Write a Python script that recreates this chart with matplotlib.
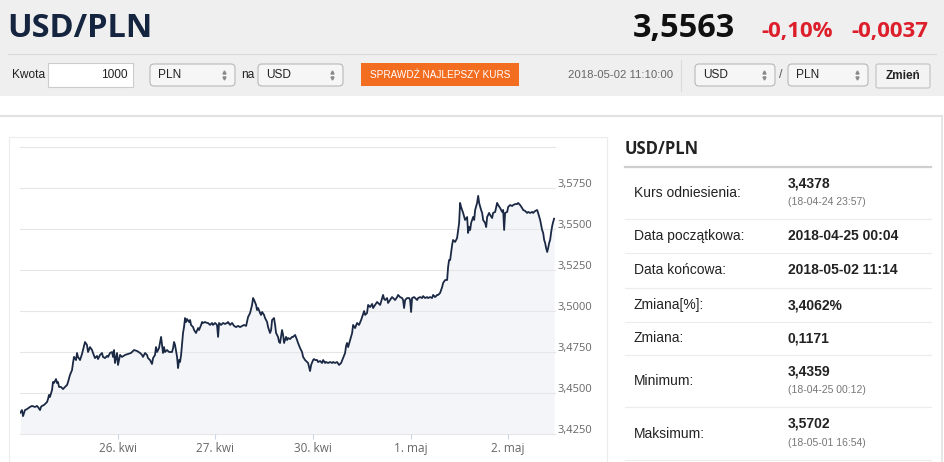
import matplotlib.pyplot as plt
from matplotlib.patches import Rectangle, FancyBboxPatch
from matplotlib.transforms import ScaledTranslation

# --- data ---
pair = "USD/PLN"
last_rate = "3,5563"
change_pct = "-0,10%"
change_abs = "-0,0037"
quote_time = "2018-05-02 11:10:00"

day_ticks = [1, 2, 3, 4, 5]
day_labels = ["26. kwi", "27. kwi", "30. kwi", "1. maj", "2. maj"]
rate_ticks = [3.425, 3.45, 3.475, 3.5, 3.525, 3.55, 3.575, 3.6]

# trading days since 25 kwi 00:00 (weekend skipped, like the site's ordinal axis)
t = [0.003, 0.020, 0.031, 0.051, 0.072, 0.102, 0.123, 0.154, 0.174, 0.184,
     0.205, 0.215, 0.225, 0.246, 0.277, 0.287, 0.297, 0.307, 0.328, 0.338,
     0.348, 0.369, 0.379, 0.389, 0.400, 0.420, 0.441, 0.461, 0.482, 0.492,
     0.512, 0.533, 0.543, 0.553, 0.574, 0.584, 0.594, 0.615, 0.635, 0.645,
     0.666, 0.686, 0.697, 0.717, 0.738, 0.748, 0.768, 0.789, 0.799, 0.820,
     0.840, 0.850, 0.871, 0.891, 0.902, 0.922, 0.943, 0.953, 0.963, 0.973,
     0.994, 1.004, 1.025, 1.045, 1.076, 1.107, 1.137, 1.168, 1.199, 1.230,
     1.250, 1.260, 1.281, 1.301, 1.311, 1.332, 1.352, 1.363, 1.383, 1.393,
     1.404, 1.424, 1.445, 1.455, 1.465, 1.475, 1.486, 1.506, 1.527, 1.557,
     1.568, 1.578, 1.588, 1.609, 1.619, 1.629, 1.639, 1.650, 1.670, 1.680,
     1.691, 1.701, 1.711, 1.732, 1.742, 1.752, 1.773, 1.783, 1.803, 1.824,
     1.834, 1.855, 1.865, 1.875, 1.895, 1.916, 1.926, 1.947, 1.967, 1.977,
     1.998, 2.018, 2.029, 2.039, 2.059, 2.080, 2.100, 2.121, 2.131, 2.152,
     2.172, 2.193, 2.213, 2.234, 2.254, 2.275, 2.295, 2.316, 2.336, 2.357,
     2.377, 2.387, 2.398, 2.418, 2.428, 2.439, 2.459, 2.469, 2.480, 2.500,
     2.510, 2.531, 2.541, 2.561, 2.572, 2.582, 2.602, 2.613, 2.623, 2.643,
     2.654, 2.664, 2.684, 2.695, 2.705, 2.725, 2.736, 2.746, 2.766, 2.787,
     2.797, 2.818, 2.838, 2.848, 2.869, 2.889, 2.900, 2.920, 2.941, 2.951,
     2.971, 2.982, 3.002, 3.012, 3.023, 3.043, 3.053, 3.074, 3.094, 3.105,
     3.125, 3.135, 3.156, 3.176, 3.197, 3.207, 3.227, 3.248, 3.268, 3.289,
     3.309, 3.330, 3.340, 3.350, 3.361, 3.381, 3.402, 3.412, 3.432, 3.453,
     3.473, 3.494, 3.504, 3.525, 3.535, 3.555, 3.566, 3.586, 3.607, 3.617,
     3.637, 3.658, 3.668, 3.689, 3.709, 3.719, 3.730, 3.740, 3.760, 3.770,
     3.791, 3.811, 3.822, 3.842, 3.863, 3.873, 3.893, 3.914, 3.924, 3.934,
     3.945, 3.965, 3.986, 3.996, 4.006, 4.016, 4.037, 4.047, 4.068, 4.078,
     4.098, 4.119, 4.129, 4.150, 4.170, 4.180, 4.201, 4.221, 4.232, 4.252,
     4.273, 4.283, 4.303, 4.324, 4.334, 4.355, 4.375, 4.385, 4.395, 4.406,
     4.426, 4.436, 4.457, 4.477, 4.488, 4.498, 4.508, 4.518, 4.529, 4.539,
     4.559, 4.580, 4.590, 4.600, 4.611, 4.621, 4.641, 4.652, 4.662, 4.682,
     4.693, 4.703, 4.723, 4.734, 4.744, 4.764, 4.775, 4.785, 4.805, 4.816,
     4.836, 4.846, 4.867, 4.887, 4.898, 4.918, 4.939, 4.949, 4.959, 4.969,
     4.990, 5.000, 5.020, 5.041, 5.051, 5.072, 5.092, 5.102, 5.123, 5.143,
     5.154, 5.174, 5.195, 5.205, 5.225, 5.246, 5.256, 5.277, 5.297, 5.307,
     5.328, 5.338, 5.348, 5.359, 5.369, 5.379, 5.389, 5.400, 5.410, 5.420,
     5.430, 5.441, 5.451, 5.461, 5.471]

rate = [3.4380, 3.4396, 3.4359, 3.4396, 3.4402, 3.4415, 3.4421, 3.4415, 3.4421, 3.4415,
        3.4396, 3.4415, 3.4421, 3.4427, 3.4445, 3.4463, 3.4488, 3.4476, 3.4518, 3.4567,
        3.4561, 3.4585, 3.4561, 3.4567, 3.4537, 3.4537, 3.4524, 3.4537, 3.4549, 3.4567,
        3.4610, 3.4640, 3.4683, 3.4720, 3.4701, 3.4744, 3.4720, 3.4701, 3.4738, 3.4762,
        3.4811, 3.4793, 3.4750, 3.4780, 3.4762, 3.4744, 3.4713, 3.4726, 3.4707, 3.4732,
        3.4744, 3.4720, 3.4713, 3.4726, 3.4720, 3.4744, 3.4750, 3.4720, 3.4762, 3.4683,
        3.4744, 3.4671, 3.4732, 3.4720, 3.4732, 3.4738, 3.4744, 3.4762, 3.4756, 3.4744,
        3.4732, 3.4720, 3.4744, 3.4732, 3.4713, 3.4701, 3.4677, 3.4713, 3.4732, 3.4780,
        3.4750, 3.4774, 3.4842, 3.4793, 3.4744, 3.4780, 3.4750, 3.4762, 3.4750, 3.4750,
        3.4774, 3.4811, 3.4793, 3.4720, 3.4652, 3.4701, 3.4689, 3.4732, 3.4866, 3.4902,
        3.4957, 3.4933, 3.4951, 3.4933, 3.4945, 3.4915, 3.4902, 3.4884, 3.4866, 3.4896,
        3.4884, 3.4915, 3.4933, 3.4927, 3.4933, 3.4927, 3.4927, 3.4915, 3.4927, 3.4915,
        3.4927, 3.4915, 3.4842, 3.4927, 3.4915, 3.4927, 3.4921, 3.4927, 3.4933, 3.4915,
        3.4927, 3.4909, 3.4902, 3.4909, 3.4902, 3.4909, 3.4915, 3.4909, 3.4963, 3.4988,
        3.5037, 3.5079, 3.5067, 3.5037, 3.5006, 3.5018, 3.4988, 3.4976, 3.4994, 3.4976,
        3.4957, 3.4933, 3.4902, 3.4866, 3.4884, 3.4945, 3.4957, 3.4915, 3.4866, 3.4842,
        3.4811, 3.4805, 3.4884, 3.4854, 3.4805, 3.4842, 3.4823, 3.4835, 3.4829, 3.4842,
        3.4842, 3.4854, 3.4823, 3.4805, 3.4774, 3.4750, 3.4720, 3.4701, 3.4689, 3.4683,
        3.4634, 3.4671, 3.4701, 3.4707, 3.4701, 3.4701, 3.4689, 3.4695, 3.4683, 3.4701,
        3.4683, 3.4689, 3.4683, 3.4689, 3.4683, 3.4689, 3.4683, 3.4689, 3.4671, 3.4683,
        3.4713, 3.4744, 3.4787, 3.4805, 3.4780, 3.4823, 3.4866, 3.4915, 3.4896, 3.4927,
        3.4915, 3.4945, 3.4963, 3.5000, 3.4976, 3.4988, 3.5037, 3.5024, 3.5043, 3.5018,
        3.5037, 3.5055, 3.5049, 3.5037, 3.5079, 3.5098, 3.5073, 3.5067, 3.5079, 3.5049,
        3.5067, 3.5085, 3.5079, 3.5067, 3.5085, 3.5098, 3.5085, 3.5079, 3.5067, 3.5018,
        3.5067, 3.5079, 3.5079, 3.5067, 3.4994, 3.5079, 3.5085, 3.5079, 3.5067, 3.5079,
        3.5085, 3.5079, 3.5091, 3.5079, 3.5085, 3.5079, 3.5085, 3.5079, 3.5098, 3.5085,
        3.5098, 3.5098, 3.5110, 3.5146, 3.5171, 3.5189, 3.5189, 3.5268, 3.5311, 3.5311,
        3.5402, 3.5433, 3.5421, 3.5445, 3.5494, 3.5537, 3.5659, 3.5634, 3.5616, 3.5598,
        3.5555, 3.5573, 3.5476, 3.5512, 3.5494, 3.5537, 3.5573, 3.5555, 3.5616, 3.5659,
        3.5702, 3.5659, 3.5616, 3.5598, 3.5555, 3.5537, 3.5512, 3.5573, 3.5598, 3.5585,
        3.5567, 3.5598, 3.5604, 3.5659, 3.5646, 3.5628, 3.5604, 3.5616, 3.5494, 3.5598,
        3.5604, 3.5634, 3.5646, 3.5640, 3.5646, 3.5652, 3.5652, 3.5659, 3.5646, 3.5628,
        3.5616, 3.5610, 3.5598, 3.5604, 3.5598, 3.5604, 3.5598, 3.5610, 3.5616, 3.5598,
        3.5555, 3.5524, 3.5494, 3.5476, 3.5433, 3.5415, 3.5384, 3.5360, 3.5384, 3.5415,
        3.5433, 3.5482, 3.5518, 3.5543, 3.5563]

stat_names = ["Kurs odniesienia:", "Data początkowa:", "Data końcowa:",
              "Zmiana[%]:", "Zmiana:", "Minimum:", "Maksimum:"]
stat_values = ["3,4378", "2018-04-25 00:04", "2018-05-02 11:14",
               "3,4062%", "0,1171", "3,4359", "3,5702"]
stat_notes = ["(18-04-24 23:57)", "", "", "", "", "(18-04-25 00:12)", "(18-05-01 16:54)"]

UI = ["Liberation Sans", "DejaVu Sans"]
plt.rcParams["font.family"] = ["Open Sans", "DejaVu Sans"]

fig = plt.figure(figsize=(9.45, 4.62), dpi=100)

# page layer in pixel units (y down)
page = fig.add_axes([0, 0, 1, 1])
page.set_xlim(0, 945)
page.set_ylim(462, 0)
page.axis("off")

# header band
page.add_patch(Rectangle((0, 0), 945, 96, color="#efefef", lw=0))
page.plot([8, 936], [53.5, 53.5], color="#d9d9d9", lw=0.8)
page.text(7, 37, pair, fontsize=23.5, weight="bold", color="#15243f")
page.text(633, 37, last_rate, fontsize=23.5, weight="bold", color="#111111")
page.text(761, 37, change_pct, fontsize=16, weight="bold", color="#dc1f2b")
page.text(851, 37, change_abs, fontsize=16, weight="bold", color="#dc1f2b")


def box(x, y, w, h, fc, ec, r=3):
    page.add_patch(FancyBboxPatch((x, y), w, h, boxstyle=f"round,pad=0,rounding_size={r}",
                                  fc=fc, ec=ec, lw=0.8))


def select(x, w, label):
    box(x, 64, w, 22, "#f6f6f6", "#b8b8b8", 4)
    page.text(x + 8, 75, label, family=UI, fontsize=8.6, color="#222222", va="center")
    page.plot(x + w - 11, 72, marker="^", ms=2.2, color="#8a8a8a")
    page.plot(x + w - 11, 78, marker="v", ms=2.2, color="#8a8a8a")


# controls row
page.text(12, 75, "Kwota", family=UI, fontsize=8.6, color="#222222", va="center")
page.add_patch(Rectangle((48, 63), 85, 24, fc="white", ec="#cccccc", lw=0.8))
page.text(128, 75, "1000", family=UI, fontsize=8.6, color="#222222", va="center", ha="right")
select(150, 85, "PLN")
page.text(241, 75, "na", family=UI, fontsize=8.6, color="#222222", va="center")
select(258, 85, "USD")
page.add_patch(Rectangle((361, 63), 158, 23, color="#f36d21", lw=0))
page.text(440, 75, "SPRAWDŹ NAJLEPSZY KURS", family=UI, fontsize=7.2, color="white",
          va="center", ha="center")
page.text(568, 75, quote_time, family=UI, fontsize=8.2, color="#666666", va="center")
page.plot([681, 681], [60, 91], color="#dcdcdc", lw=0.8)
select(695, 80, "USD")
page.text(781, 75, "/", family=UI, fontsize=9, color="#555555", va="center", ha="center")
select(788, 80, "PLN")
box(876, 64, 54, 24, "#f3f3f3", "#c2c2c2", 2)
page.text(903, 76, "Zmień", family=UI, fontsize=8.5, weight="bold", color="#222222",
          va="center", ha="center")

# content frames
page.plot([0, 942], [116, 116], color="#e2e2e2", lw=1.5)
page.plot([942, 942], [116, 462], color="#e2e2e2", lw=1.2)
page.add_patch(Rectangle((9, 137), 598, 330, fc="none", ec="#ececec", lw=0.8))

# stats panel
page.text(625, 149, pair, fontsize=12, weight="bold", color="#222222", va="center")
page.plot([625, 931], [167, 167], color="#cfcfcf", lw=1.6)
row_edges = [167, 219, 253, 288, 322, 355, 407, 460]
for i, name in enumerate(stat_names):
    top, bottom = row_edges[i], row_edges[i + 1]
    mid = (top + bottom) / 2
    page.plot([625, 931], [bottom, bottom], color="#ececec", lw=0.8)
    page.text(634, mid, name, family=UI, fontsize=10, color="#222222", va="center")
    if stat_notes[i]:
        page.text(788, mid - 10, stat_values[i], family=UI, fontsize=10, weight="bold",
                  color="#222222", va="center")
        page.text(788, mid + 9, stat_notes[i], family=UI, fontsize=7.5, color="#777777",
                  va="center")
    else:
        page.text(788, mid, stat_values[i], family=UI, fontsize=10, weight="bold",
                  color="#222222", va="center")

# chart
ax = fig.add_axes([20 / 945, 28 / 462, 535 / 945, 287 / 462])
ax.patch.set_alpha(0)
ax.fill_between(t, rate, rate_ticks[0], color="#f3f5f8", lw=0, zorder=0.5)
for v in rate_ticks:
    ax.axhline(v, color="#e6e6e6", lw=0.8, zorder=1, clip_on=False)
ax.plot(t, rate, color="#1b2945", lw=1.3, zorder=2)
ax.set_xlim(0, 5.48)
ax.set_ylim(rate_ticks[0], rate_ticks[-1])
for s in ax.spines.values():
    s.set_visible(False)

ax.set_xticks(day_ticks, day_labels)
ax.tick_params(axis="x", length=3.6, width=0.8, color="#ccd6eb", pad=2.5,
               labelsize=8.5, labelcolor="#666666")
ax.set_yticks(rate_ticks, [f"{v:.4f}".replace(".", ",") for v in rate_ticks[:-1]] + [""])
ax.tick_params(axis="y", left=False, labelleft=False, right=False, labelright=True,
               length=0, pad=2, labelsize=8, labelcolor="#666666")
for lbl in ax.get_yticklabels():
    lbl.set_transform(lbl.get_transform() + ScaledTranslation(0, 0.05, fig.dpi_scale_trans))

fig.savefig("out.png", dpi=100)
